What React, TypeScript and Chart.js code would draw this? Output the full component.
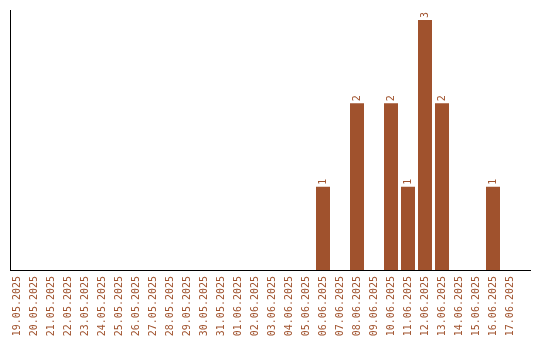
import React, { useEffect, useRef } from "react";
import { Chart, registerables } from "chart.js";

Chart.register(...registerables);

const categories = [
  "19.05.2025", "20.05.2025", "21.05.2025", "22.05.2025", "23.05.2025",
  "24.05.2025", "25.05.2025", "26.05.2025", "27.05.2025", "28.05.2025",
  "29.05.2025", "30.05.2025", "31.05.2025", "01.06.2025", "02.06.2025",
  "03.06.2025", "04.06.2025", "05.06.2025", "06.06.2025", "07.06.2025",
  "08.06.2025", "09.06.2025", "10.06.2025", "11.06.2025", "12.06.2025",
  "13.06.2025", "14.06.2025", "15.06.2025", "16.06.2025", "17.06.2025",
];

const counts = [
  0, 0, 0, 0, 0,
  0, 0, 0, 0, 0,
  0, 0, 0, 0, 0,
  0, 0, 0, 1, 0,
  2, 0, 2, 1, 3,
  2, 0, 0, 1, 0,
];

const BROWN = "#A0522D";
const FONT = "'DejaVu Sans Mono', monospace";

const axisLines = {
  id: "axisLines",
  afterDraw(chart: any) {
    const ctx = chart.ctx;
    const y = chart.scales.y;
    const top = y.getPixelForValue(y.max);
    const bottom = y.getPixelForValue(0);
    ctx.save();
    ctx.fillStyle = "#000000";
    ctx.fillRect(10, Math.round(top), 1, Math.round(bottom - top));
    ctx.fillRect(10, Math.round(bottom), 521, 1);
    ctx.restore();
  },
};

const valueLabels = {
  id: "valueLabels",
  afterDatasetsDraw(chart: any) {
    const ctx = chart.ctx;
    const meta = chart.getDatasetMeta(0);
    const data = chart.data.datasets[0].data as number[];
    ctx.save();
    ctx.fillStyle = BROWN;
    ctx.font = `10px ${FONT}`;
    ctx.textAlign = "left";
    ctx.textBaseline = "middle";
    meta.data.forEach((bar: any, i: number) => {
      const v = data[i];
      if (!v) return;
      ctx.save();
      ctx.translate(bar.x, bar.y - 2);
      ctx.rotate(-Math.PI / 2);
      ctx.fillText(String(v), 0, 0);
      ctx.restore();
    });
    ctx.restore();
  },
};

export default function App() {
  const ref = useRef<HTMLCanvasElement | null>(null);

  useEffect(() => {
    document.body.style.margin = "0";
    const canvas = ref.current!;
    const chart = new Chart(canvas, {
      type: "bar",
      data: {
        labels: categories,
        datasets: [
          {
            data: counts,
            backgroundColor: BROWN,
            borderWidth: 0,
            barPercentage: 14 / 17,
            categoryPercentage: 1,
          },
        ],
      },
      options: {
        animation: false,
        responsive: false,
        maintainAspectRatio: false,
        layout: { padding: { left: 8.5, top: 10, right: 21.5, bottom: 0 } },
        plugins: {
          legend: { display: false },
          tooltip: { enabled: false },
          title: { display: false },
        },
        scales: {
          x: {
            type: "category",
            offset: true,
            grid: { display: false, drawTicks: false },
            border: { display: false },
            ticks: {
              autoSkip: false,
              minRotation: 90,
              maxRotation: 90,
              padding: 6,
              color: BROWN,
              font: { family: FONT, size: 10 },
            },
            afterFit: (scale: any) => {
              scale.height = 70;
            },
          },
          y: {
            display: false,
            min: 0,
            max: 3.12,
          },
        },
      },
      plugins: [axisLines, valueLabels],
    });
    return () => chart.destroy();
  }, []);

  return (
    <div style={{ width: 540, height: 340 }}>
      <canvas ref={ref} width={540} height={340} style={{ display: "block" }} />
    </div>
  );
}
